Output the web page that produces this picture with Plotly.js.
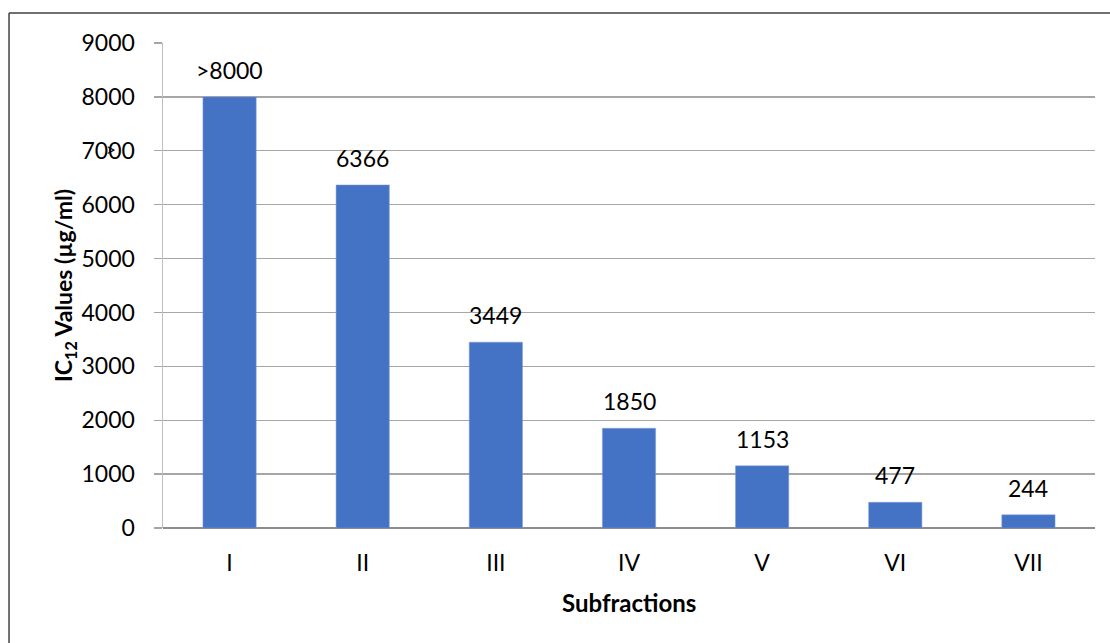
<!DOCTYPE html>
<html>
<head>
<meta charset="utf-8">
<script src="https://cdn.plot.ly/plotly-3.0.1.min.js"></script>
<style>
html,body{margin:0;padding:0;background:#fff;}
#chart{width:1110px;height:643px;}
</style>
</head>
<body>
<div id="chart"></div>
<script>
const categories = ["I","II","III","IV","V","VI","VII"];
const values = [8000, 6366, 3449, 1850, 1153, 477, 244];
const valueLabels = [">8000","6366","3449","1850","1153","477","244"];
const yTicks = [0,1000,2000,3000,4000,5000,6000,7000,8000,9000];
const xTitle = "<b>Subfractions</b>";
const yTitle = "<b>IC<sub>12</sub> Values (µg/ml)</b>";

const FONT = "Lato, 'Open Sans', sans-serif";

const trace = {
  type: "bar",
  x: categories,
  y: values,
  marker: {color: "#4472C4", line: {color: "#7e9fd8", width: 0.5}},
  width: 0.4,
  hoverinfo: "x+y"
};

const annotations = categories.map((c, i) => ({
  x: c, y: values[i], xref: "x", yref: "y",
  text: valueLabels[i], showarrow: false,
  yanchor: "middle", yshift: 27,
  font: {family: FONT, size: 23, color: "#000"}
}));
// stray ">" glyph next to the 7000 tick label
annotations.push({
  x: -0.0558, y: 0.7814, xref: "paper", yref: "paper",
  text: ">", showarrow: false, xanchor: "center", yanchor: "middle",
  font: {family: FONT, size: 17, color: "#000"}
});
// x axis title
annotations.push({
  x: 0.5, y: -0.1546, xref: "paper", yref: "paper",
  text: xTitle, showarrow: false, xanchor: "center", yanchor: "middle",
  font: {family: FONT, size: 24, color: "#000"}
});

const layout = {
  width: 1110, height: 643,
  margin: {l: 163, r: 15, t: 43, b: 115},
  paper_bgcolor: "#fff", plot_bgcolor: "#fff",
  showlegend: false,
  font: {family: FONT, size: 23, color: "#000"},
  xaxis: {
    type: "category",
    showgrid: false,
    showline: false,
    ticks: "",
    ticklabelstandoff: 19,
    tickfont: {family: FONT, size: 23, color: "#000"},
    automargin: false,
    zeroline: false
  },
  yaxis: {
    range: [0, 9000],
    tickvals: yTicks,
    ticktext: yTicks.map(String),
    showgrid: true, gridcolor: "#a6a6a6", gridwidth: 1.3,
    zeroline: true, zerolinecolor: "#8c8c8c", zerolinewidth: 1.6,
    showline: true, linecolor: "#bfbfbf", linewidth: 1.5,
    ticks: "outside", ticklen: 8, tickcolor: "#a6a6a6", tickwidth: 1.3,
    ticklabelstandoff: 14,
    tickfont: {family: FONT, size: 23, color: "#000"},
    title: {text: yTitle, font: {family: FONT, size: 23, color: "#000"}},
    automargin: false,
    fixedrange: true
  },
  annotations: annotations,
  shapes: [
    {type: "line", xref: "paper", yref: "paper", x0: -0.1652, x1: 1.02, y0: 1.0619, y1: 1.0619,
     line: {color: "#404040", width: 1.5}},
    {type: "line", xref: "paper", yref: "paper", x0: -0.1652, x1: -0.1652, y0: 1.0619, y1: -0.25,
     line: {color: "#404040", width: 1.5}}
  ]
};

Plotly.newPlot("chart", [trace], layout, {displayModeBar: false, staticPlot: true});
</script>
</body>
</html>
